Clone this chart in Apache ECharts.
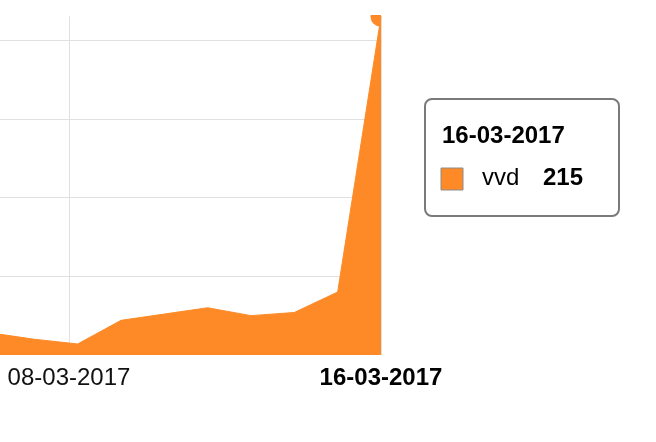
<!DOCTYPE html>
<html><head><meta charset="utf-8">
<script src="https://cdn.jsdelivr.net/npm/echarts@6/dist/echarts.min.js"></script>
<style>html,body{margin:0;padding:0;background:#fff}#c{width:656px;height:442px}</style>
</head><body><div id="c"></div>
<script>
// Data (x: timestamps of points, y: values)
const times = ['06-03-2017 00:00','07-03-2017 02:40','08-03-2017 05:20','09-03-2017 08:00','10-03-2017 10:40',
               '11-03-2017 13:20','12-03-2017 16:00','13-03-2017 18:40','14-03-2017 21:20','16-03-2017 00:00'];
const seriesName = 'vvd';
const values = [14, 10, 7, 22, 26, 30, 25, 27, 40, 215];
const tickLabels = ['08-03-2017', '16-03-2017'];
const hoverLabel = '16-03-2017';
// visible window of the (cropped) time axis
const viewStart = '06-03-2017 05:32';
const viewEnd = '16-03-2017 00:00';

const ORANGE = '#fd8a27';
const FONT = '"Liberation Sans", Arial, sans-serif';

// day-of-March as a continuous number
function dayOf(s) {
  const m = s.match(/^(\d\d)-(\d\d)-(\d{4})(?: (\d\d):(\d\d))?$/);
  return (+m[1]) + ((+(m[4] || 0)) / 24) + ((+(m[5] || 0)) / 1440);
}
const tickValues = tickLabels.map(dayOf);
const last = values.length - 1;
const seriesData = times.map((t, i) => {
  const v = [dayOf(t), values[i]];
  if (i === last) {
    return {
      value: v,
      symbol: 'path://M0.59,0 L11,0 L11,11.9 A10.5,10.5 0 0 1 0.5,1.4 Z',
      symbolSize: [10.5, 11.9],
      symbolOffset: [-5.25, 4.55],
      itemStyle: { color: ORANGE, opacity: 1 }
    };
  }
  return v;
});

const chart = echarts.init(document.getElementById('c'), null, { renderer: 'canvas' });
chart.setOption({
  animation: false,
  grid: { left: 0, top: 16.4, width: 381, bottom: 87, containLabel: false },
  xAxis: {
    type: 'value', min: dayOf(viewStart), max: dayOf(viewEnd),
    axisLine: { show: false },
    axisTick: { show: false, customValues: tickValues },
    splitLine: { show: true, lineStyle: { color: '#e0e0e0', width: 1 } },
    axisLabel: {
      customValues: tickValues,
      margin: 11, fontSize: 24, lineHeight: 24, fontFamily: FONT, color: '#111',
      formatter: function (v) {
        const lbl = tickLabels.find(t => Math.abs(dayOf(t) - v) < 1e-6);
        if (!lbl) return '';
        return lbl === hoverLabel ? '{b|' + lbl + '}' : lbl;
      },
      rich: { b: { fontWeight: 'bold', fontSize: 24, lineHeight: 24, fontFamily: FONT, color: '#000' } }
    }
  },
  yAxis: {
    type: 'value', min: 0, max: 215, interval: 50,
    axisLine: { show: false }, axisTick: { show: false }, axisLabel: { show: false },
    splitLine: { show: true, showMinLine: false, showMaxLine: false, lineStyle: { color: '#e0e0e0', width: 1 } }
  },
  series: [{
    name: seriesName,
    type: 'line',
    data: seriesData,
    symbol: 'none',
    clip: false,
    lineStyle: { color: ORANGE, width: 1 },
    itemStyle: { color: ORANGE },
    areaStyle: { color: ORANGE, opacity: 1 }
  }],
  graphic: [{
    type: 'group', x: 424, y: 98,
    children: [
      { type: 'rect', shape: { x: 1, y: 1, width: 194, height: 117, r: 7 },
        style: { fill: '#fff', stroke: '#7a7a7a', lineWidth: 2 } },
      { type: 'text', x: 18, y: 38.5,
        style: { text: hoverLabel, font: 'bold 24px ' + FONT, fill: '#000', verticalAlign: 'middle' } },
      { type: 'rect', shape: { x: 17, y: 70, width: 22, height: 22 },
        style: { fill: ORANGE, stroke: '#8c8c8c', lineWidth: 1 } },
      { type: 'text', x: 58, y: 80.5,
        style: { text: seriesName, font: '24px ' + FONT, fill: '#000', verticalAlign: 'middle' } },
      { type: 'text', x: 119, y: 80.5,
        style: { text: String(values[last]), font: 'bold 24px ' + FONT, fill: '#000', verticalAlign: 'middle' } }
    ]
  }]
});
</script>
</body></html>
